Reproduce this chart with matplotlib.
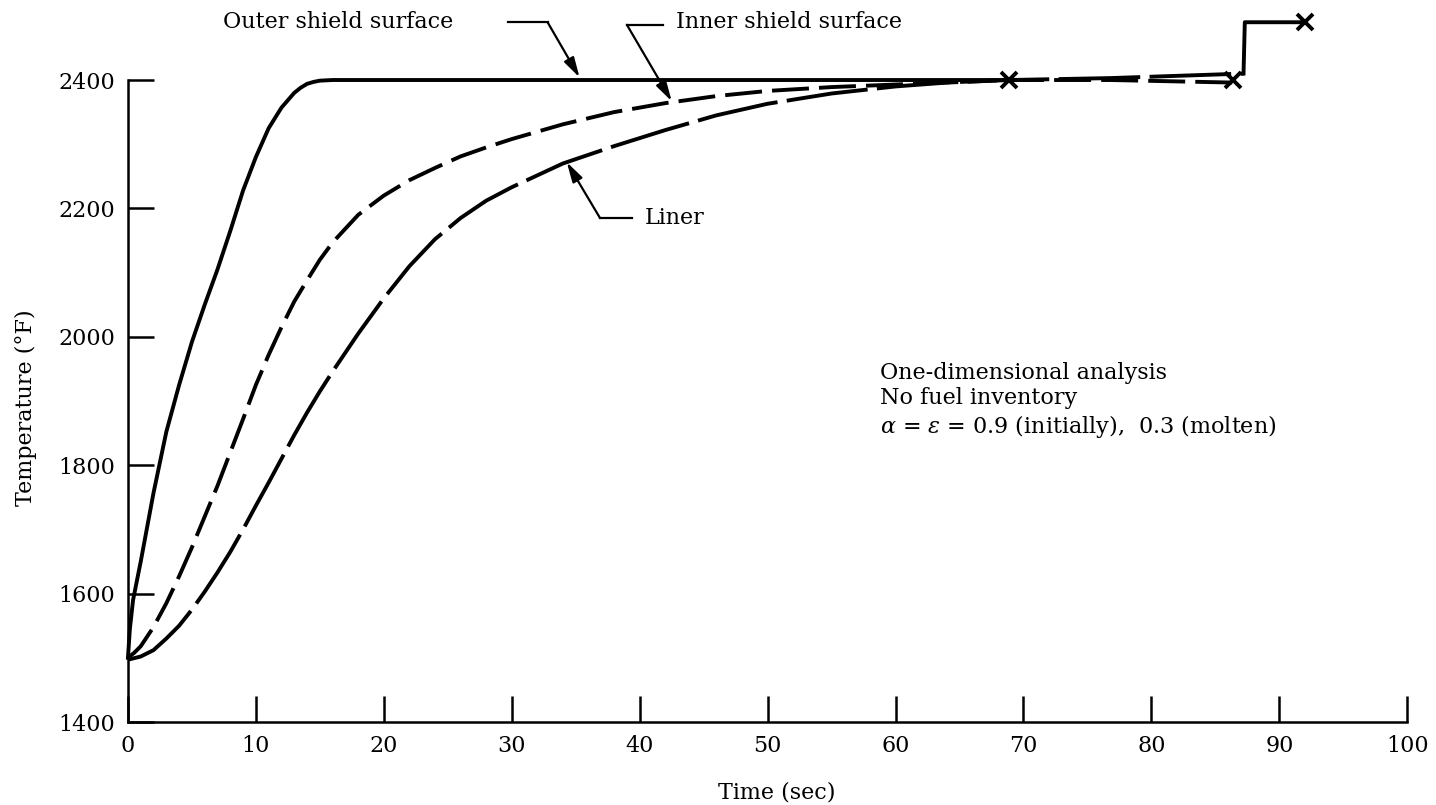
import numpy as np
import matplotlib.pyplot as plt

plt.rcParams['font.family'] = ['DejaVu Serif', 'DejaVu Sans']
plt.rcParams['mathtext.fontset'] = 'dejavuserif'

# temperatures (deg F) against time (sec)
outer_t = [0, 0.15, 0.4, 1, 2, 3, 4, 5, 6, 7, 8, 9, 10, 11, 12, 13, 13.5, 14, 14.5,
           15, 16, 68.9]
outer_T = [1500, 1545, 1590, 1650, 1757, 1852, 1925, 1992, 2050, 2105, 2165, 2228,
           2280, 2325, 2357, 2380, 2388, 2394, 2397, 2399, 2400, 2400]

inner_t = [0, 0.5, 1, 2, 3, 4, 5, 6, 7, 8, 9, 10, 11, 12, 13, 14, 15, 16, 18, 20,
           22, 24, 26, 28, 30, 34, 38, 42, 46, 50, 55, 60, 65, 68.9, 76.8, 86.4]
inner_T = [1500, 1508, 1518, 1548, 1585, 1627, 1672, 1720, 1768, 1820, 1872, 1925,
           1972, 2015, 2055, 2088, 2120, 2147, 2190, 2220, 2244, 2263, 2281, 2295,
           2308, 2331, 2350, 2364, 2375, 2383, 2389, 2393, 2397, 2400, 2400, 2396]

liner_t = [0, 1, 2, 3, 4, 5, 6, 7, 8, 9, 10, 11, 12, 13, 14, 15, 16, 18, 20, 22,
           24, 26, 28, 30, 34, 38, 42, 46, 50, 55, 60, 64, 68.9, 76.8, 87.2]
liner_T = [1497, 1502, 1512, 1530, 1550, 1575, 1603, 1633, 1665, 1700, 1737, 1773,
           1810, 1847, 1882, 1915, 1946, 2005, 2060, 2110, 2152, 2185, 2212, 2233,
           2270, 2297, 2322, 2345, 2363, 2379, 2390, 2396, 2400, 2403, 2410]

# molten step at the end of the liner trace
molten_t = [87.2, 87.3, 92.0]
molten_T = [2410, 2490, 2490]

# end points marked with an X
end_t = [68.9, 86.4, 92.0]
end_T = [2400, 2400, 2490]

x_ticks = np.arange(0, 101, 10)
y_ticks = np.arange(1400, 2401, 200)

fig = plt.figure(figsize=(14.36, 8.05), dpi=100)
ax = fig.add_axes([0.0891, 0.1031, 0.8909, 0.7975])

lw = 2.8
ax.plot(outer_t, outer_T, color='black', lw=lw, clip_on=False)
ax.plot(inner_t, inner_T, color='black', lw=lw, dashes=(9.5, 2.6), clip_on=False)
ax.plot(liner_t, liner_T, color='black', lw=lw, dashes=(21, 2.4), clip_on=False)
ax.plot(molten_t, molten_T, color='black', lw=lw, clip_on=False)
ax.plot(end_t, end_T, ls='none', marker='x', ms=12, mew=2.8, color='black', clip_on=False)

ax.set_xlim(0, 100)
ax.set_ylim(1400, 2400)
ax.set_xticks(x_ticks)
ax.set_yticks(y_ticks)
for s in ['top', 'right']:
    ax.spines[s].set_visible(False)
for s in ['left', 'bottom']:
    ax.spines[s].set_linewidth(1.8)
ax.tick_params(direction='in', length=19, width=1.8, labelsize=16, pad=9)

ax.set_xlabel('Time (sec)', fontsize=16)
ax.set_ylabel('Temperature (°F)', fontsize=16)
ax.xaxis.set_label_coords(0.507, -0.093)
ax.yaxis.set_label_coords(-0.071, 0.49)

arrow = dict(arrowstyle='-|>,head_length=0.8,head_width=0.22', mutation_scale=15,
             lw=1.6, color='black', shrinkA=0, shrinkB=0)

# leader: text, short horizontal run, then a slanted arrow onto the curve
ax.text(7.4, 2490, 'Outer shield surface', fontsize=16, va='center', ha='left')
ax.plot([29.7, 32.8], [2490, 2490], color='black', lw=1.6, clip_on=False)
ax.annotate('', xy=(35.3, 2404), xytext=(32.8, 2490), arrowprops=arrow,
            annotation_clip=False)

ax.text(42.8, 2490, 'Inner shield surface', fontsize=16, va='center', ha='left')
ax.plot([39.0, 41.8], [2486, 2486], color='black', lw=1.6, clip_on=False)
ax.annotate('', xy=(42.5, 2367), xytext=(39.0, 2486), arrowprops=arrow,
            annotation_clip=False)

ax.text(40.4, 2185, 'Liner', fontsize=16, va='center', ha='left')
ax.plot([36.9, 39.4], [2185, 2185], color='black', lw=1.6)
ax.annotate('', xy=(34.3, 2272), xytext=(36.9, 2185), arrowprops=arrow)

ax.text(58.8, 1900,
        'One-dimensional analysis\nNo fuel inventory\n'
        r'$\alpha$ = $\varepsilon$ = 0.9 (initially),  0.3 (molten)',
        fontsize=16, va='center', ha='left', linespacing=1.2)

fig.savefig('out.png', dpi=100)
